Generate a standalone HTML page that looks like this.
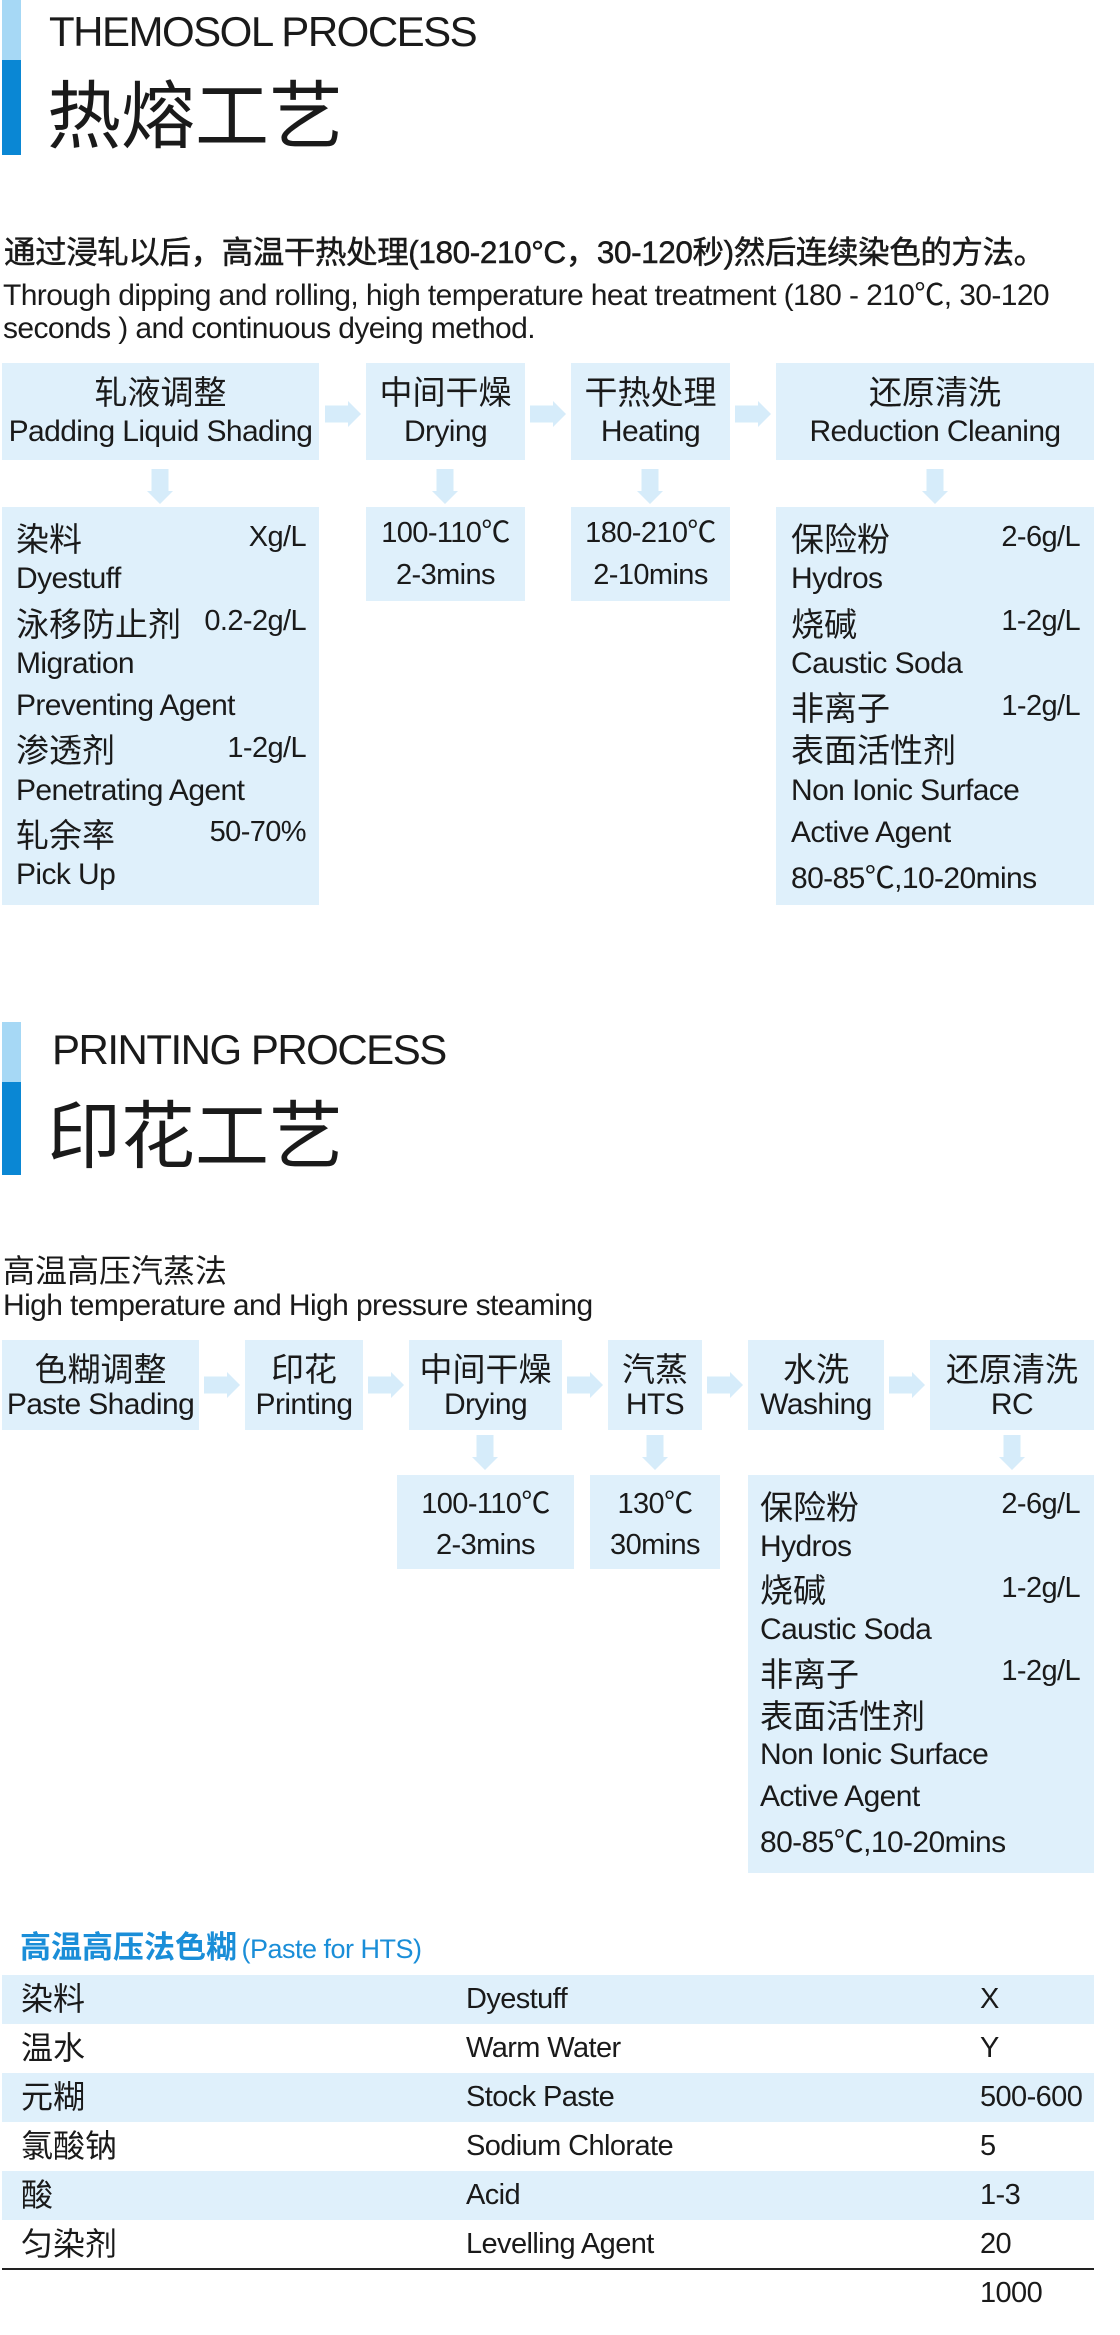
<!DOCTYPE html>
<html><head><meta charset="utf-8">
<style>
*{margin:0;padding:0;box-sizing:border-box}
body{width:1120px;height:2335px;background:#fff;position:relative;overflow:hidden;font-family:"Liberation Sans","Noto Sans CJK SC",sans-serif;color:#1a1a1a}
.a{position:absolute}
.bl{background:#a6d8f5}
.bd{background:#0a87d4}
.box{position:absolute;background:#dff0fb}
.en{font-family:"Liberation Sans","Noto Sans CJK SC",sans-serif;font-size:30px;letter-spacing:-0.6px}
.cn{font-family:"Liberation Sans","Noto Sans CJK SC",sans-serif;font-size:33px}
.hd{position:absolute;left:0;right:0;text-align:center;white-space:nowrap;height:40px;line-height:40px}
.rows{position:absolute;left:0;right:0}
.r{display:flex;justify-content:space-between;align-items:center;white-space:nowrap}
.ctr{position:absolute;left:0;right:0;text-align:center;height:40px;line-height:40px;font-size:29px;letter-spacing:-0.6px}
svg{position:absolute;overflow:visible}
.tr{position:absolute;left:2px;width:1092px;height:49px}
.tr span{position:absolute;top:0;line-height:49px;white-space:nowrap}
</style></head><body>

<!-- Section 1 header -->
<div class="a bl" style="left:2px;top:0;width:19px;height:60px"></div>
<div class="a bd" style="left:2px;top:60px;width:19px;height:95px"></div>
<div class="a" style="left:49px;top:8px;font-size:42px;letter-spacing:-1.5px;line-height:48px;white-space:nowrap">THEMOSOL PROCESS</div>
<div class="a" style="left:47px;top:72px;font-size:74px;line-height:90px;white-space:nowrap">热熔工艺</div>

<div class="a" style="left:4px;top:232px;font-size:31.5px;line-height:40px;white-space:nowrap;letter-spacing:-0.4px;-webkit-text-stroke:0.5px #1a1a1a">通过浸轧以后，高温干热处理(180-210°C，30-120秒)然后连续染色的方法。</div>
<div class="a en" style="left:3px;top:279px;line-height:33px;width:1110px">Through dipping and rolling, high temperature heat treatment (180 - 210℃, 30-120<br>seconds ) and continuous dyeing method.</div>

<!-- Section 1 top boxes -->
<div class="box" style="left:2px;top:363px;width:317px;height:97px"><div class="hd cn" style="top:10px">轧液调整</div><div class="hd en" style="top:49px">Padding Liquid Shading</div></div>
<div class="box" style="left:366px;top:363px;width:159px;height:97px"><div class="hd cn" style="top:10px">中间干燥</div><div class="hd en" style="top:49px">Drying</div></div>
<div class="box" style="left:571px;top:363px;width:159px;height:97px"><div class="hd cn" style="top:10px">干热处理</div><div class="hd en" style="top:49px">Heating</div></div>
<div class="box" style="left:776px;top:363px;width:318px;height:97px"><div class="hd cn" style="top:10px">还原清洗</div><div class="hd en" style="top:49px">Reduction Cleaning</div></div>

<!-- right arrows s1 -->
<svg style="left:325px;top:401px" width="36" height="26"><rect x="0" y="4.5" width="24" height="17" fill="#d6ecfa"/><polygon points="23,0 36,13 23,26" fill="#d6ecfa"/></svg>
<svg style="left:530px;top:401px" width="36" height="26"><rect x="0" y="4.5" width="24" height="17" fill="#d6ecfa"/><polygon points="23,0 36,13 23,26" fill="#d6ecfa"/></svg>
<svg style="left:735px;top:401px" width="36" height="26"><rect x="0" y="4.5" width="24" height="17" fill="#d6ecfa"/><polygon points="23,0 36,13 23,26" fill="#d6ecfa"/></svg>
<!-- down arrows s1 -->
<svg style="left:147px;top:469px" width="26" height="35"><rect x="4.5" y="0" width="17" height="23" fill="#d6ecfa"/><polygon points="0,22 26,22 13,35" fill="#d6ecfa"/></svg>
<svg style="left:432px;top:469px" width="26" height="35"><rect x="4.5" y="0" width="17" height="23" fill="#d6ecfa"/><polygon points="0,22 26,22 13,35" fill="#d6ecfa"/></svg>
<svg style="left:637px;top:469px" width="26" height="35"><rect x="4.5" y="0" width="17" height="23" fill="#d6ecfa"/><polygon points="0,22 26,22 13,35" fill="#d6ecfa"/></svg>
<svg style="left:922px;top:469px" width="26" height="35"><rect x="4.5" y="0" width="17" height="23" fill="#d6ecfa"/><polygon points="0,22 26,22 13,35" fill="#d6ecfa"/></svg>

<!-- Section 1 lower boxes -->
<div class="box" style="left:2px;top:507px;width:317px;height:398px">
 <div class="rows" style="top:9px;padding:0 13px 0 14px">
  <div class="r" style="height:42.25px"><span class="cn">染料</span><span class="en" style="font-size:29px">Xg/L</span></div>
  <div class="r" style="height:42.25px"><span class="en">Dyestuff</span></div>
  <div class="r" style="height:42.25px"><span class="cn">泳移防止剂</span><span class="en" style="font-size:29px">0.2-2g/L</span></div>
  <div class="r" style="height:42.25px"><span class="en">Migration</span></div>
  <div class="r" style="height:42.25px"><span class="en">Preventing Agent</span></div>
  <div class="r" style="height:42.25px"><span class="cn">渗透剂</span><span class="en" style="font-size:29px">1-2g/L</span></div>
  <div class="r" style="height:42.25px"><span class="en">Penetrating Agent</span></div>
  <div class="r" style="height:42.25px"><span class="cn">轧余率</span><span class="en" style="font-size:29px">50-70%</span></div>
  <div class="r" style="height:42.25px"><span class="en">Pick Up</span></div>
 </div>
</div>
<div class="box" style="left:366px;top:507px;width:159px;height:94px"><div class="ctr" style="top:6px">100-110℃</div><div class="ctr" style="top:48px">2-3mins</div></div>
<div class="box" style="left:571px;top:507px;width:159px;height:94px"><div class="ctr" style="top:6px">180-210℃</div><div class="ctr" style="top:48px">2-10mins</div></div>
<div class="box" style="left:776px;top:507px;width:318px;height:398px">
 <div class="rows" style="top:9px;padding:0 14px 0 15px">
  <div class="r" style="height:42.25px"><span class="cn">保险粉</span><span class="en" style="font-size:29px">2-6g/L</span></div>
  <div class="r" style="height:42.25px"><span class="en">Hydros</span></div>
  <div class="r" style="height:42.25px"><span class="cn">烧碱</span><span class="en" style="font-size:29px">1-2g/L</span></div>
  <div class="r" style="height:42.25px"><span class="en">Caustic Soda</span></div>
  <div class="r" style="height:42.25px"><span class="cn">非离子</span><span class="en" style="font-size:29px">1-2g/L</span></div>
  <div class="r" style="height:42.25px"><span class="cn">表面活性剂</span></div>
  <div class="r" style="height:42.25px"><span class="en">Non Ionic Surface</span></div>
  <div class="r" style="height:42.25px"><span class="en">Active Agent</span></div>
  <div class="r" style="height:42.25px"><span class="en">80-85℃,10-20mins</span></div>
 </div>
</div>

<!-- Section 2 header -->
<div class="a bl" style="left:2px;top:1022px;width:19px;height:60px"></div>
<div class="a bd" style="left:2px;top:1082px;width:19px;height:93px"></div>
<div class="a" style="left:52px;top:1026px;font-size:42px;letter-spacing:-1.5px;line-height:48px;white-space:nowrap">PRINTING PROCESS</div>
<div class="a" style="left:47px;top:1092px;font-size:74px;line-height:90px;white-space:nowrap">印花工艺</div>

<div class="a" style="left:3px;top:1251px;font-size:32px;line-height:40px;white-space:nowrap">高温高压汽蒸法</div>
<div class="a en" style="left:3px;top:1289px;line-height:34px;white-space:nowrap">High temperature and High pressure steaming</div>

<!-- Section 2 top boxes -->
<div class="box" style="left:2px;top:1340px;width:197px;height:90px"><div class="hd cn" style="top:10px">色糊调整</div><div class="hd en" style="top:45px">Paste Shading</div></div>
<div class="box" style="left:245px;top:1340px;width:118px;height:90px"><div class="hd cn" style="top:10px">印花</div><div class="hd en" style="top:45px">Printing</div></div>
<div class="box" style="left:409px;top:1340px;width:153px;height:90px"><div class="hd cn" style="top:10px">中间干燥</div><div class="hd en" style="top:45px">Drying</div></div>
<div class="box" style="left:608px;top:1340px;width:94px;height:90px"><div class="hd cn" style="top:10px">汽蒸</div><div class="hd en" style="top:45px">HTS</div></div>
<div class="box" style="left:748px;top:1340px;width:136px;height:90px"><div class="hd cn" style="top:10px">水洗</div><div class="hd en" style="top:45px">Washing</div></div>
<div class="box" style="left:930px;top:1340px;width:164px;height:90px"><div class="hd cn" style="top:10px">还原清洗</div><div class="hd en" style="top:45px">RC</div></div>

<svg style="left:204px;top:1372px" width="36" height="26"><rect x="0" y="4.5" width="24" height="17" fill="#d6ecfa"/><polygon points="23,0 36,13 23,26" fill="#d6ecfa"/></svg>
<svg style="left:368px;top:1372px" width="36" height="26"><rect x="0" y="4.5" width="24" height="17" fill="#d6ecfa"/><polygon points="23,0 36,13 23,26" fill="#d6ecfa"/></svg>
<svg style="left:567px;top:1372px" width="36" height="26"><rect x="0" y="4.5" width="24" height="17" fill="#d6ecfa"/><polygon points="23,0 36,13 23,26" fill="#d6ecfa"/></svg>
<svg style="left:707px;top:1372px" width="36" height="26"><rect x="0" y="4.5" width="24" height="17" fill="#d6ecfa"/><polygon points="23,0 36,13 23,26" fill="#d6ecfa"/></svg>
<svg style="left:889px;top:1372px" width="36" height="26"><rect x="0" y="4.5" width="24" height="17" fill="#d6ecfa"/><polygon points="23,0 36,13 23,26" fill="#d6ecfa"/></svg>

<svg style="left:472px;top:1435px" width="26" height="35"><rect x="4.5" y="0" width="17" height="23" fill="#d6ecfa"/><polygon points="0,22 26,22 13,35" fill="#d6ecfa"/></svg>
<svg style="left:642px;top:1435px" width="26" height="35"><rect x="4.5" y="0" width="17" height="23" fill="#d6ecfa"/><polygon points="0,22 26,22 13,35" fill="#d6ecfa"/></svg>
<svg style="left:999px;top:1435px" width="26" height="35"><rect x="4.5" y="0" width="17" height="23" fill="#d6ecfa"/><polygon points="0,22 26,22 13,35" fill="#d6ecfa"/></svg>

<div class="box" style="left:397px;top:1475px;width:177px;height:94px"><div class="ctr" style="top:9px">100-110℃</div><div class="ctr" style="top:50px">2-3mins</div></div>
<div class="box" style="left:590px;top:1475px;width:130px;height:94px"><div class="ctr" style="top:9px">130℃</div><div class="ctr" style="top:50px">30mins</div></div>
<div class="box" style="left:748px;top:1475px;width:346px;height:398px">
 <div class="rows" style="top:9px;padding:0 14px 0 12px">
  <div class="r" style="height:41.75px"><span class="cn">保险粉</span><span class="en" style="font-size:29px">2-6g/L</span></div>
  <div class="r" style="height:41.75px"><span class="en">Hydros</span></div>
  <div class="r" style="height:41.75px"><span class="cn">烧碱</span><span class="en" style="font-size:29px">1-2g/L</span></div>
  <div class="r" style="height:41.75px"><span class="en">Caustic Soda</span></div>
  <div class="r" style="height:41.75px"><span class="cn">非离子</span><span class="en" style="font-size:29px">1-2g/L</span></div>
  <div class="r" style="height:41.75px"><span class="cn">表面活性剂</span></div>
  <div class="r" style="height:41.75px"><span class="en">Non Ionic Surface</span></div>
  <div class="r" style="height:41.75px"><span class="en">Active Agent</span></div>
  <div class="r" style="height:41.75px"><span class="en">80-85℃,10-20mins</span></div>
 </div>
</div>

<!-- Table -->
<div class="a" style="left:20px;top:1929px;line-height:38px;white-space:nowrap;color:#1a8ed8"><span style="font-size:31px;font-weight:bold">高温高压法色糊</span> <span style="font-size:27px;letter-spacing:-0.5px">(Paste for HTS)</span></div>

<div class="tr" style="top:1975px;background:#dff0fb"><span class="cn" style="left:19px;font-size:32px">染料</span><span class="en" style="left:464px;font-size:29px">Dyestuff</span><span class="en" style="left:978px;font-size:29px">X</span></div>
<div class="tr" style="top:2024px"><span class="cn" style="left:19px;font-size:32px">温水</span><span class="en" style="left:464px;font-size:29px">Warm Water</span><span class="en" style="left:978px;font-size:29px">Y</span></div>
<div class="tr" style="top:2073px;background:#dff0fb"><span class="cn" style="left:19px;font-size:32px">元糊</span><span class="en" style="left:464px;font-size:29px">Stock Paste</span><span class="en" style="left:978px;font-size:29px">500-600</span></div>
<div class="tr" style="top:2122px"><span class="cn" style="left:19px;font-size:32px">氯酸钠</span><span class="en" style="left:464px;font-size:29px">Sodium Chlorate</span><span class="en" style="left:978px;font-size:29px">5</span></div>
<div class="tr" style="top:2171px;background:#dff0fb"><span class="cn" style="left:19px;font-size:32px">酸</span><span class="en" style="left:464px;font-size:29px">Acid</span><span class="en" style="left:978px;font-size:29px">1-3</span></div>
<div class="tr" style="top:2220px"><span class="cn" style="left:19px;font-size:32px">匀染剂</span><span class="en" style="left:464px;font-size:29px">Levelling Agent</span><span class="en" style="left:978px;font-size:29px">20</span></div>
<div class="a" style="left:2px;top:2268px;width:1092px;height:2px;background:#222"></div>
<div class="a en" style="left:980px;top:2273px;line-height:40px;font-size:29px">1000</div>

</body></html>
